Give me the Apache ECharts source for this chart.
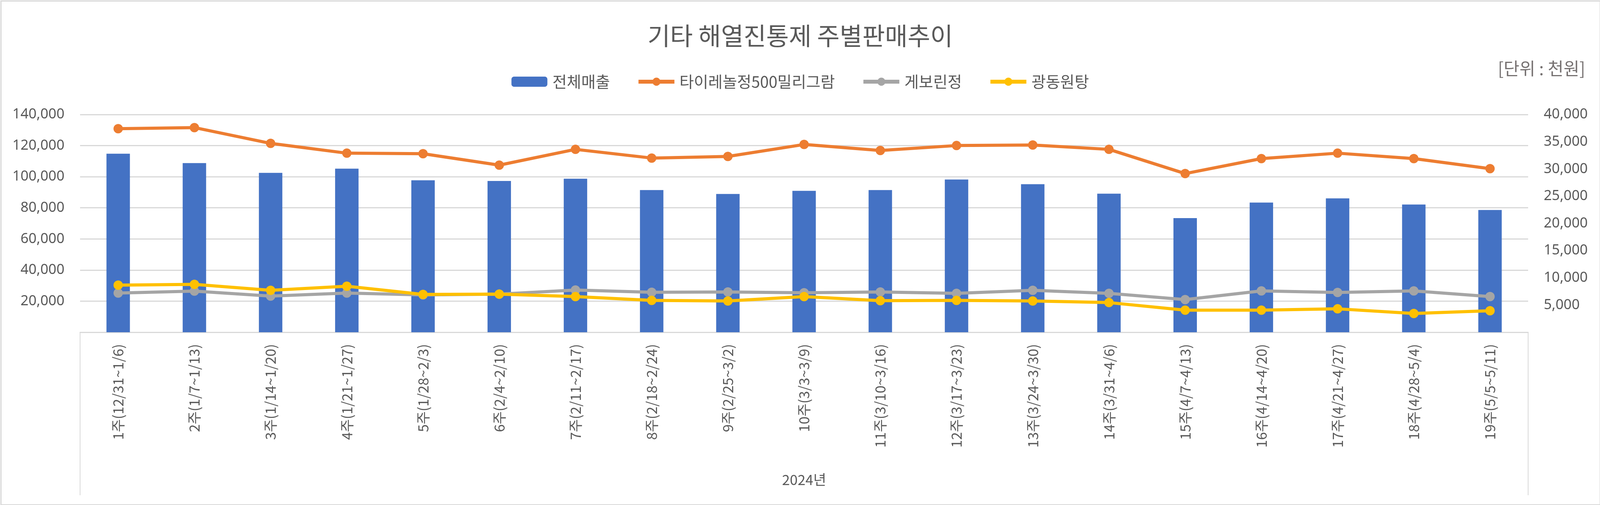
<!DOCTYPE html>
<html>
<head>
<meta charset="utf-8">
<script src="https://cdn.jsdelivr.net/npm/echarts@6/dist/echarts.min.js"></script>
<style>
html,body{margin:0;padding:0;background:#fff;}
#chart{width:4097px;height:1292px;}
</style>
</head>
<body>
<div id="chart"></div>
<script>
const categories = ['1주(12/31~1/6)','2주(1/7~1/13)','3주(1/14~1/20)','4주(1/21~1/27)','5주(1/28~2/3)','6주(2/4~2/10)','7주(2/11~2/17)','8주(2/18~2/24)','9주(2/25~3/2)','10주(3/3~3/9)','11주(3/10~3/16)','12주(3/17~3/23)','13주(3/24~3/30)','14주(3/31~4/6)','15주(4/7~4/13)','16주(4/14~4/20)','17주(4/21~4/27)','18주(4/28~5/4)','19주(5/5~5/11)'];
const groupLabels = ['2024년'];
const totalSales = [114800,108800,102500,105200,97700,97300,98700,91400,88900,90900,91400,98200,95200,89100,73400,83400,86100,82100,78600];
const tylenol = [37400,37600,34700,32900,32800,30700,33600,32000,32300,34500,33400,34300,34400,33600,29150,31900,32900,31900,30050];
const geborin = [7200,7550,6650,7200,6850,7000,7750,7350,7400,7250,7400,7150,7700,7150,6000,7600,7300,7600,6550];
const gwangdong = [8650,8800,7700,8450,6950,7000,6550,5850,5750,6550,5800,5850,5750,5450,4050,4050,4300,3450,3950];

const fmt = v => v === 0 ? '' : v.toLocaleString('en-US');
const chart = echarts.init(document.getElementById('chart'));
const lineCommon = (name, data, color) => ({
  name, type: 'line', yAxisIndex: 1, data,
  symbol: 'circle', symbolSize: 24,
  lineStyle: {width: 8, color},
  itemStyle: {color},
  z: 3
});
chart.setOption({
  animation: false,
  backgroundColor: '#fff',
  title: [
    {text: '기타 해열진통제 주별판매추이', left: 'center', top: 55,
     textStyle: {fontFamily: 'Noto Sans CJK KR', fontSize: 63, fontWeight: 'normal', color: '#595959'}},
    {text: '[단위 : 천원]', right: 34, top: 148,
     textStyle: {fontFamily: 'Noto Sans CJK KR', fontSize: 44, fontWeight: 'normal', color: '#767171'}}
  ],
  legend: {
    top: 184, left: 'center',
    itemWidth: 92, itemHeight: 26, itemGap: 68,
    lineStyle: {width: 10},
    textStyle: {fontFamily: 'Noto Sans CJK KR', fontSize: 40, color: '#595959', padding: [0,0,0,8]},
    data: ['전체매출','타이레놀정500밀리그람','게보린정','광동원탕']
  },
  grid: {left: 205, right: 185, top: 293, bottom: 442, containLabel: false},
  xAxis: [
    {type: 'category', data: categories, position: 'bottom',
     axisLine: {onZero: false, lineStyle: {color: '#D9D9D9', width: 3}},
     axisTick: {show: false},
     axisLabel: {rotate: 90, margin: 30, fontFamily: 'Noto Sans CJK KR', fontSize: 36, color: '#595959', interval: 0}},
    {type: 'category', data: groupLabels, position: 'bottom', offset: 417,
     axisLine: {show: false, onZero: false},
     axisTick: {show: true, inside: true, length: 417, lineStyle: {color: '#D9D9D9', width: 2}},
     axisLabel: {margin: -58, fontFamily: 'Noto Sans CJK KR', fontSize: 36, color: '#595959'}}
  ],
  yAxis: [
    {type: 'value', min: 0, max: 140000, interval: 20000,
     axisLine: {show: false}, axisTick: {show: false},
     axisLabel: {formatter: fmt, margin: 40, fontFamily: 'Noto Sans', fontSize: 36, color: '#595959'},
     splitLine: {lineStyle: {color: '#D9D9D9', width: 3}}},
    {type: 'value', min: 0, max: 40000, interval: 5000,
     axisLine: {show: false}, axisTick: {show: false},
     axisLabel: {formatter: fmt, margin: 40, fontFamily: 'Noto Sans', fontSize: 36, color: '#595959'},
     splitLine: {show: false}}
  ],
  series: [
    {name: '전체매출', type: 'bar', data: totalSales, barWidth: 60, itemStyle: {color: '#4472C4'}, z: 2},
    lineCommon('타이레놀정500밀리그람', tylenol, '#ED7D31'),
    lineCommon('게보린정', geborin, '#A5A5A5'),
    lineCommon('광동원탕', gwangdong, '#FFC000')
  ],
  graphic: [
    {type: 'rect', left: 0, top: 0, shape: {x: 1.5, y: 1.5, width: 4094, height: 1289},
     style: {fill: 'none', stroke: '#D9D9D9', lineWidth: 3}, silent: true, z: -1}
  ]
});
</script>
</body>
</html>
